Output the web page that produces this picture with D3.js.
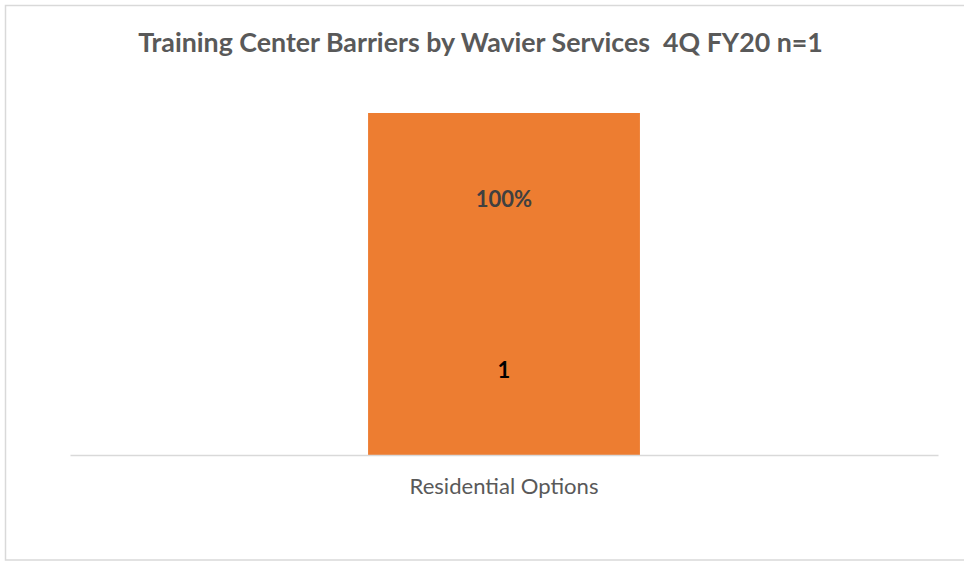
<!DOCTYPE html>
<html><head><meta charset="utf-8">
<script src="https://cdn.jsdelivr.net/npm/d3@7"></script>
<style>html,body{margin:0;padding:0;background:#fff;}svg{display:block;}</style>
</head><body>
<svg id="c" width="964" height="561"></svg>
<script>
const title = "Training Center Barriers by Wavier Services  4Q FY20 n=1";
const categories = ["Residential Options"];
const counts = [1];
const percents = [1.0];

const svg = d3.select("#c");
const W = 964, H = 561;
const FONT = "Lato, 'Open Sans', sans-serif";

svg.append("rect").attr("x", 5.5).attr("y", 5.5).attr("width", W).attr("height", H - 6.5)
  .attr("fill", "#fff").attr("stroke", "#d9d9d9").attr("stroke-width", 1.5);

const x = d3.scaleBand().domain(categories).range([70, 938]).padding(0.523);
const y = d3.scaleLinear().domain([0, 1]).range([455, 113]);

function fit(sel, target) {
  const w = sel.node().getComputedTextLength();
  const fs = parseFloat(sel.attr("font-size"));
  sel.attr("font-size", fs * target / w);
}

const t = svg.append("text").attr("x", 480.5).attr("y", 52).attr("text-anchor", "middle")
  .attr("font-family", FONT).attr("font-weight", "bold").attr("font-size", 24)
  .attr("fill", "#595959").style("white-space", "pre").text(title);
fit(t, 685);

svg.selectAll("rect.bar").data(categories).join("rect").attr("class", "bar")
  .attr("x", d => x(d)).attr("width", x.bandwidth())
  .attr("y", (d, i) => y(counts[i])).attr("height", (d, i) => y(0) - y(counts[i]))
  .attr("fill", "#ed7d31");

const ax = svg.append("g").attr("transform", "translate(0,455)")
  .call(d3.axisBottom(x).tickSize(0).tickPadding(0));
ax.select(".domain").attr("stroke", "#d9d9d9").attr("stroke-width", 1.5);
ax.selectAll(".tick text").attr("font-family", FONT).attr("font-size", 21)
  .attr("fill", "#595959").attr("dy", null).attr("y", 39);
ax.selectAll(".tick text").each(function(){ fit(d3.select(this), 189); });

const fmt = d3.format(".0%");
svg.selectAll("text.pct").data(categories).join("text").attr("class", "pct")
  .attr("x", d => x(d) + x.bandwidth() / 2).attr("y", 207).attr("text-anchor", "middle")
  .attr("font-family", FONT).attr("font-weight", "bold").attr("font-size", 22)
  .attr("fill", "#404040").text((d, i) => fmt(percents[i]));

svg.selectAll("text.cnt").data(categories).join("text").attr("class", "cnt")
  .attr("x", d => x(d) + x.bandwidth() / 2).attr("y", 378).attr("text-anchor", "middle")
  .attr("font-family", FONT).attr("font-weight", "bold").attr("font-size", 22)
  .attr("fill", "#000").text((d, i) => counts[i]);
</script>
</body></html>
